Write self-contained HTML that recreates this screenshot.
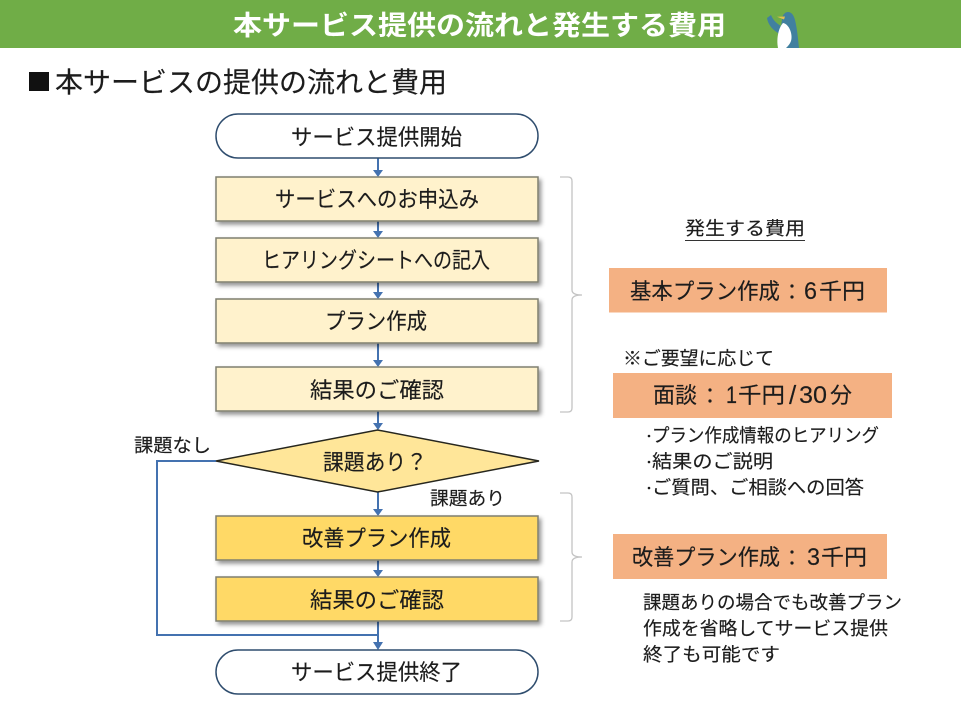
<!DOCTYPE html>
<html lang="ja">
<head>
<meta charset="utf-8">
<title>本サービス提供の流れと発生する費用</title>
<style>
html,body{margin:0;padding:0;background:#fff;width:961px;height:722px;overflow:hidden}
svg{display:block}
text{font-family:"Liberation Sans","Noto Sans CJK JP",sans-serif;fill:#1c1c1c;stroke:#1c1c1c;stroke-width:.15}
</style>
</head>
<body>
<svg width="961" height="722" viewBox="0 0 961 722" xmlns="http://www.w3.org/2000/svg">
<defs>
<filter id="s" x="-5%" y="-20%" width="112%" height="150%"><feDropShadow dx="2.5" dy="3" stdDeviation="2" flood-color="#000" flood-opacity=".42"/></filter>
</defs>
<rect width="961" height="722" fill="#fff"/>
<rect width="961" height="48" fill="#70ad47"/>
<text x="233" y="35" font-size="27" font-weight="700" style="fill:#fff;stroke:none" textLength="493" lengthAdjust="spacingAndGlyphs">本サービス提供の流れと発生する費用</text>
<!-- penguin -->
<path d="M767 18 L771 15 C773 20 776 23 781 26 L782 20 C782 15 785 12 788 12 C792 12 794 16 795 20 C797 28 798 38 799 48 L781 48 L778 33 C773 30 768 25 767 18Z" fill="#41809f"/>
<path d="M777 16.800 L785 16.500 L784 19.500 Z" fill="#e3c04f"/>
<path d="M778 48 C776 38 779 27 783 23 C789 24 793 34 791 41 C790 44 788 46 786 48Z" fill="#fff"/>

<rect x="29" y="72" width="20" height="19" fill="#111"/>
<text x="55" y="92" font-size="28" textLength="392" lengthAdjust="spacingAndGlyphs">本サービスの提供の流れと費用</text>

<!-- connectors -->
<g fill="none" stroke="#4472b0" stroke-width="2">
<path d="M378 158V172M378 221V233M378 282V294M378 343V362M378 411V425M378 492V511M378 560V572M378 621V645"/>
<path d="M216 461H157V635H378"/>
</g>
<g fill="#4472b0">
<path d="M373 170L383 170L378 177Z"/>
<path d="M373 231L383 231L378 238Z"/>
<path d="M373 292L383 292L378 299Z"/>
<path d="M373 360L383 360L378 367Z"/>
<path d="M373 423L383 423L378 430Z"/>
<path d="M373 509L383 509L378 516Z"/>
<path d="M373 570L383 570L378 577Z"/>
<path d="M373 642L383 642L378 650Z"/>
</g>

<!-- terminals -->
<rect x="216" y="114" width="322" height="44" rx="22" fill="#fff" stroke="#2f4d6e" stroke-width="1.500"/>
<rect x="216" y="650" width="322" height="44" rx="22" fill="#fff" stroke="#2f4d6e" stroke-width="1.500"/>

<!-- process boxes -->
<g stroke="#7f7f6f" stroke-width="1.500" filter="url(#s)">
<rect x="216" y="177" width="322" height="44" fill="#fff2cc"/>
<rect x="216" y="238" width="322" height="44" fill="#fff2cc"/>
<rect x="216" y="299" width="322" height="44" fill="#fff2cc"/>
<rect x="216" y="367" width="322" height="44" fill="#fff2cc"/>
<rect x="216" y="516" width="322" height="44" fill="#ffd966"/>
<rect x="216" y="577" width="322" height="44" fill="#ffd966"/>
</g>
<path d="M216 461L377.500 430L539 461L377.500 492Z" fill="#ffe699" stroke="#26261e" stroke-width="1.500"/>

<!-- flow labels -->
<g font-size="22">
<text x="291" y="145" textLength="171" lengthAdjust="spacingAndGlyphs">サービス提供開始</text>
<text x="275" y="207" textLength="204" lengthAdjust="spacingAndGlyphs">サービスへのお申込み</text>
<text x="262" y="268" textLength="228" lengthAdjust="spacingAndGlyphs">ヒアリングシートへの記入</text>
<text x="325" y="329" textLength="102" lengthAdjust="spacingAndGlyphs">プラン作成</text>
<text x="310" y="398" textLength="134" lengthAdjust="spacingAndGlyphs">結果のご確認</text>
<text x="323" y="470" textLength="104" lengthAdjust="spacingAndGlyphs">課題あり？</text>
<text x="302" y="546" textLength="149" lengthAdjust="spacingAndGlyphs">改善プラン作成</text>
<text x="310" y="608" textLength="134" lengthAdjust="spacingAndGlyphs">結果のご確認</text>
<text x="291" y="680" textLength="171" lengthAdjust="spacingAndGlyphs">サービス提供終了</text>
</g>
<text x="134" y="452" font-size="18.500" textLength="77" lengthAdjust="spacingAndGlyphs">課題なし</text>
<text x="430" y="505" font-size="18.500" textLength="75" lengthAdjust="spacingAndGlyphs">課題あり</text>

<!-- braces -->
<g fill="none" stroke="#c4c4c4" stroke-width="1.300">
<path d="M560 177H568Q572 177 572 181V290Q572 295 582 295Q572 295 572 300V408Q572 412 568 412H560"/>
<path d="M560 493H568Q572 493 572 497V552Q572 557 582 557Q572 557 572 562V617Q572 621 568 621H560"/>
</g>

<!-- right column -->
<text x="685" y="235" font-size="18.500" textLength="120" lengthAdjust="spacingAndGlyphs">発生する費用</text>
<path d="M685 240.500H805" stroke="#333" stroke-width="1"/>

<rect x="609" y="268" width="278" height="44.500" fill="#f4b183"/>
<g font-size="22">
<text x="630" y="299" textLength="150" lengthAdjust="spacingAndGlyphs">基本プラン作成</text>
<circle cx="792" cy="286" r="1.600" fill="#1c1c1c"/><circle cx="792" cy="297" r="1.600" fill="#1c1c1c"/>
<text x="804" y="299" font-size="24" textLength="13" lengthAdjust="spacingAndGlyphs">6</text>
<text x="819" y="299" textLength="46" lengthAdjust="spacingAndGlyphs">千円</text>
</g>

<text x="623" y="365" font-size="18.500" textLength="151" lengthAdjust="spacingAndGlyphs">※ご要望に応じて</text>

<rect x="613" y="373" width="279" height="45" fill="#f4b183"/>
<g font-size="22">
<text x="653" y="403" textLength="44" lengthAdjust="spacingAndGlyphs">面談</text>
<circle cx="710" cy="390" r="1.600" fill="#1c1c1c"/><circle cx="710" cy="401" r="1.600" fill="#1c1c1c"/>
<text x="726" y="403" font-size="24" textLength="11" lengthAdjust="spacingAndGlyphs">1</text>
<text x="738" y="403" textLength="47" lengthAdjust="spacingAndGlyphs">千円</text>
<text x="789" y="404" font-size="26">/</text>
<text x="799" y="403" font-size="24" textLength="28" lengthAdjust="spacingAndGlyphs">30</text>
<text x="830" y="403" textLength="22" lengthAdjust="spacingAndGlyphs">分</text>
</g>

<g font-size="18.500">
<circle cx="649" cy="436" r="1.300" fill="#1c1c1c"/>
<circle cx="649" cy="462" r="1.300" fill="#1c1c1c"/>
<circle cx="649" cy="488" r="1.300" fill="#1c1c1c"/>
<text x="652" y="442" textLength="227" lengthAdjust="spacingAndGlyphs">プラン作成情報のヒアリング</text>
<text x="652" y="468" textLength="121" lengthAdjust="spacingAndGlyphs">結果のご説明</text>
<text x="652" y="494" textLength="212" lengthAdjust="spacingAndGlyphs">ご質問、ご相談への回答</text>
</g>

<rect x="613" y="534" width="274" height="45" fill="#f4b183"/>
<g font-size="22">
<text x="632" y="565" textLength="148" lengthAdjust="spacingAndGlyphs">改善プラン作成</text>
<circle cx="792" cy="552" r="1.600" fill="#1c1c1c"/><circle cx="792" cy="563" r="1.600" fill="#1c1c1c"/>
<text x="807" y="565" font-size="24" textLength="13" lengthAdjust="spacingAndGlyphs">3</text>
<text x="821" y="565" textLength="46" lengthAdjust="spacingAndGlyphs">千円</text>
</g>

<g font-size="18.500">
<text x="643" y="609" textLength="259" lengthAdjust="spacingAndGlyphs">課題ありの場合でも改善プラン</text>
<text x="643" y="635" textLength="245" lengthAdjust="spacingAndGlyphs">作成を省略してサービス提供</text>
<text x="643" y="661" textLength="137" lengthAdjust="spacingAndGlyphs">終了も可能です</text>
</g>
</svg>
</body>
</html>
